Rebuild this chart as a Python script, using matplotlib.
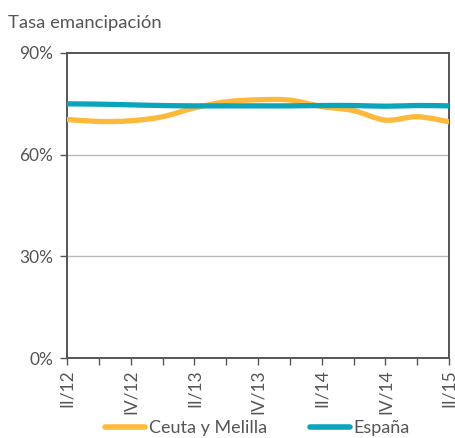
import numpy as np
import matplotlib
matplotlib.use("Agg")
import matplotlib.pyplot as plt
from matplotlib.path import Path
from matplotlib.patches import PathPatch
from matplotlib.lines import Line2D

quarters = ["II/12", "III/12", "IV/12", "I/13", "II/13", "III/13", "IV/13",
            "I/14", "II/14", "III/14", "IV/14", "I/15", "II/15"]
ceuta = [70.4, 69.8, 70.0, 71.2, 73.8, 75.6, 76.2, 76.1, 74.2, 73.0, 70.2, 71.2, 69.7]
espana = [75.0, 74.9, 74.7, 74.5, 74.4, 74.4, 74.4, 74.4, 74.5, 74.5, 74.3, 74.5, 74.4]
yticks = [0, 30, 60, 90]
series_names = ["Ceuta y Melilla", "España"]
colors = ["#FDB93B", "#0AA5BA"]

plt.rcParams['font.family'] = ['Lato', 'DejaVu Sans']
txt = "#555555"

fig = plt.figure(figsize=(4.56, 4.38), dpi=100)
ax = fig.add_axes([0.147, 0.1826, 0.838, 0.6964])


def smooth_path(xs, ys):
    xs = np.asarray(xs, float); ys = np.asarray(ys, float)
    verts = [(xs[0], ys[0])]
    codes = [Path.MOVETO]
    n = len(xs)
    for i in range(n - 1):
        x0, y0 = (xs[i - 1], ys[i - 1]) if i > 0 else (xs[i], ys[i])
        x1, y1 = xs[i], ys[i]
        x2, y2 = xs[i + 1], ys[i + 1]
        x3, y3 = (xs[i + 2], ys[i + 2]) if i + 2 < n else (xs[i + 1], ys[i + 1])
        c1 = (x1 + (x2 - x0) / 6, y1 + (y2 - y0) / 6)
        c2 = (x2 - (x3 - x1) / 6, y2 - (y3 - y1) / 6)
        verts += [c1, c2, (x2, y2)]
        codes += [Path.CURVE4] * 3
    return Path(verts, codes)


x = np.arange(len(quarters))
for vals, c in zip([ceuta, espana], colors):
    p = PathPatch(smooth_path(x, vals), facecolor='none', edgecolor=c,
                  lw=3.8, capstyle='round', zorder=3)
    ax.add_patch(p)

ax.set_xlim(0, len(quarters) - 1)
ax.set_ylim(0, 90)
ax.set_yticks(yticks)
ax.set_yticklabels([f"{v}%" for v in yticks])
ax.set_xticks(x)
ax.set_xticklabels([q if i % 2 == 0 else "" for i, q in enumerate(quarters)],
                   rotation=90)
ax.tick_params(axis='both', colors="#555555", labelcolor=txt, labelsize=12.5,
               length=5, width=1)
ax.tick_params(axis='x', pad=3)
ax.tick_params(axis='y', pad=5)
for s in ax.spines.values():
    s.set_color("#555555")
    s.set_linewidth(1.4)
for v in [30, 60]:
    ax.axhline(v, color="#BBBBBB", lw=1, zorder=1)

fig.text(0.018, 0.948, "Tasa emancipación", fontsize=13.3, color=txt, va='center')

handles = [Line2D([0], [0], color=c, lw=4, solid_capstyle='round') for c in colors]
fig.legend(handles, series_names, loc='center', bbox_to_anchor=(0.565, 0.022),
           ncol=2, frameon=False, fontsize=13, labelcolor=txt, handlelength=2.2,
           handletextpad=0.2, columnspacing=2.4)

fig.savefig("out.png", dpi=100)
